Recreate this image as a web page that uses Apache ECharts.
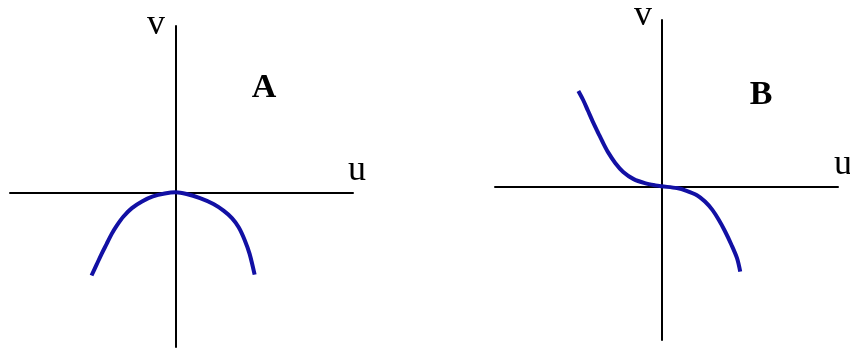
<!DOCTYPE html>
<html>
<head>
<meta charset="utf-8">
<script src="https://cdn.jsdelivr.net/npm/echarts@6/dist/echarts.min.js"></script>
<style>
  html, body { margin: 0; padding: 0; background: #ffffff; }
  #chart { width: 850px; height: 349px; }
</style>
</head>
<body>
<div id="chart"></div>
<script>
// Panel A: cap-shaped curve, v falls off on both sides of u = 0
const curveA_u = [-1.00, -0.94, -0.88, -0.82, -0.76, -0.70, -0.62, -0.52, -0.40, -0.27, -0.13, 0.00,
                  0.13, 0.29, 0.45, 0.57, 0.67, 0.75, 0.82, 0.88, 0.94];
const curveA_v = [-1.00, -0.87, -0.74, -0.62, -0.50, -0.40, -0.29, -0.19, -0.11, -0.05, -0.015, 0.00,
                  -0.02, -0.07, -0.14, -0.22, -0.31, -0.42, -0.57, -0.74, -0.99];

// Panel B: decreasing curve, flat through the origin
const curveB_u = [-1.04, -0.98, -0.92, -0.86, -0.79, -0.73, -0.67, -0.58, -0.48, -0.35, -0.21, -0.08, 0.00,
                  0.19, 0.31, 0.44, 0.54, 0.63, 0.71, 0.79, 0.87, 0.94, 0.98];
const curveB_v = [1.06, 0.96, 0.84, 0.72, 0.59, 0.48, 0.38, 0.26, 0.16, 0.08, 0.035, 0.01, 0.00,
                  -0.02, -0.05, -0.10, -0.17, -0.26, -0.37, -0.50, -0.65, -0.80, -0.95];

// Axis extents for each panel
const rangeA = { uMin: -1.97, uMax: 2.11, vMin: -1.86, vMax: 2.00 };
const rangeB = { uMin: -2.08, uMax: 2.20, vMin: -1.71, vMax: 1.85 };

// Text drawn on the panels
const panelNames = ['A', 'B'];
const axisNames = { u: 'u', v: 'v' };

const pairs = (us, vs) => us.map((u, i) => [u, vs[i]]);

const curveColor = '#1210a4';
const axisColor = '#000000';

function valueAxis(gridIndex, min, max) {
  return {
    type: 'value',
    gridIndex: gridIndex,
    min: min,
    max: max,
    axisLine: { show: true, onZero: true, lineStyle: { color: axisColor, width: 2 } },
    axisTick: { show: false },
    axisLabel: { show: false },
    splitLine: { show: false }
  };
}

function curveSeries(idx, data) {
  return {
    type: 'line',
    xAxisIndex: idx,
    yAxisIndex: idx,
    data: data,
    smooth: 0.3,
    showSymbol: false,
    silent: true,
    lineStyle: { color: curveColor, width: 4, cap: 'butt', join: 'round' }
  };
}

const serif = '"Liberation Serif", "DejaVu Serif", serif';

function label(text, x, y, size, weight) {
  return {
    type: 'text',
    x: x,
    y: y,
    style: {
      text: text,
      fill: '#000000',
      font: weight + ' ' + size + 'px ' + serif,
      textAlign: 'center',
      textVerticalAlign: 'middle'
    }
  };
}

const chart = echarts.init(document.getElementById('chart'), null, { renderer: 'canvas' });

chart.setOption({
  backgroundColor: '#ffffff',
  animation: false,
  grid: [
    { left: 10, top: 26, width: 343, height: 321 },
    { left: 495, top: 20, width: 343, height: 320 }
  ],
  xAxis: [
    valueAxis(0, rangeA.uMin, rangeA.uMax),
    valueAxis(1, rangeB.uMin, rangeB.uMax)
  ],
  yAxis: [
    valueAxis(0, rangeA.vMin, rangeA.vMax),
    valueAxis(1, rangeB.vMin, rangeB.vMax)
  ],
  series: [
    curveSeries(0, pairs(curveA_u, curveA_v)),
    curveSeries(1, pairs(curveB_u, curveB_v))
  ],
  graphic: [
    label(axisNames.v, 156, 25, 36, 'normal'),
    label(axisNames.u, 357, 171, 36, 'normal'),
    label(panelNames[0], 264, 88, 34, 'bold'),
    label(axisNames.v, 643, 16, 36, 'normal'),
    label(axisNames.u, 843, 165, 36, 'normal'),
    label(panelNames[1], 761, 95, 34, 'bold')
  ]
});
</script>
</body>
</html>
